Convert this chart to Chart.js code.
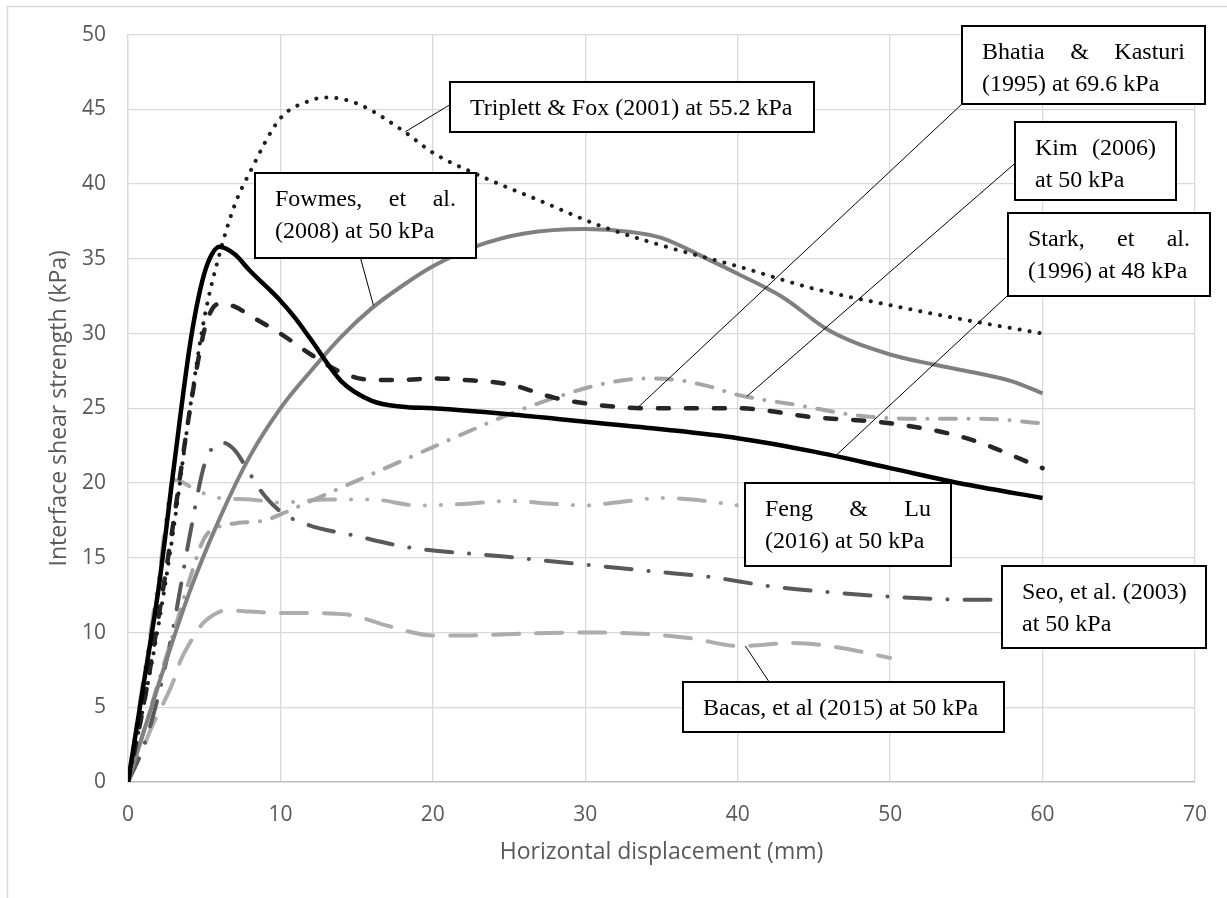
<!DOCTYPE html>
<html><head><meta charset="utf-8">
<script src="https://cdn.jsdelivr.net/npm/chart.js@4.4.1/dist/chart.umd.min.js"></script>
<style>html,body{margin:0;padding:0;background:#fff;}canvas{display:block;}</style>
</head><body>
<canvas id="c" width="1227" height="898"></canvas>
<script>
// ---- data ----
const xTickValues = [0, 10, 20, 30, 40, 50, 60, 70];
const yTickValues = [0, 5, 10, 15, 20, 25, 30, 35, 40, 45, 50];

const starkX = [0,1,2,3,4,4.5,5,5.5,6,7,8,10,11,12,14,16,18,20,25,30,35,40,45,50,55,60];
const starkY = [0,6.4,12.9,21,28.8,31.8,34,35.3,35.8,35.3,34.2,32.2,31,29.6,26.8,25.5,25.1,25,24.6,24.1,23.6,23,22.1,21,19.9,19];

const tripX = [0,1,2,3,4,5,6,7,8,10,12,13,15,18,20,23,27,31,35,40,45,50,55,60];
const tripY = [0,5,10.5,17,24.5,31,35.3,38.6,40.8,44.4,45.6,45.8,45.4,43.6,42.1,40.6,38.9,37.2,35.9,34.5,33,31.9,30.9,30];

const bhatiaX = [0,1,2,3,4,5,5.5,6,7,8,10,12,14,16,18,20,22,25,28,31,34,37,40,45,50,55,60];
const bhatiaY = [0,5,11,17.5,24.5,30.2,31.6,32,31.8,31.2,30,28.6,27.4,26.9,26.9,27,26.9,26.6,25.7,25.2,25,25,25,24.4,24,23,21];

const fowmesX = [0,2,4,6,8,10,12,14,16,18,20,23,26,30,33,35,38,40,43,46,50,53,55,58,60];
const fowmesY = [0,6.5,12.6,17.6,21.8,25,27.5,29.8,31.7,33.2,34.5,35.9,36.7,37,36.8,36.4,35,34,32.4,30.2,28.6,27.9,27.5,26.8,26];

const kimX = [0,1,2,3,4,5,6,7,8,9,10,12,14,16,18,20,22,25,28,31,34,36,38,40,44,48,52,56,60];
const kimY = [0,3.3,6.7,10,13.4,16.3,17.1,17.3,17.4,17.5,17.9,18.8,19.7,20.6,21.5,22.4,23.3,24.6,25.7,26.6,27,26.9,26.5,25.9,25.2,24.5,24.3,24.3,24];

const fengX = [0,1,2,3,3.5,4,5,6,8,10,13,16,19,22,25,28,30,32,35,37,40];
const fengY = [0,6.8,13.5,20.2,20.1,19.8,19.3,19,18.9,18.7,18.9,18.9,18.5,18.6,18.8,18.6,18.5,18.7,19,18.9,18.5];

const seoX = [0,1,2,3,4,5,5.5,6.2,7,7.6,8.7,10,11.8,14.8,18.4,24.5,30.4,34.3,38.3,42.1,46,50,55,60];
const seoY = [0,2.3,5.8,10.5,16.2,21.2,22.3,22.7,22.2,21.3,19.5,18.1,17.2,16.5,15.7,15.1,14.5,14.1,13.7,13.1,12.7,12.4,12.2,12.2];

const bacasX = [0,1,1.65,2,3,3.4,4,4.9,5.5,6.5,8,10,12,14.4,17.2,20,22,25.3,29.7,34.1,37,40.1,43.7,46.6,50];
const bacasY = [0,2.3,3.9,4.6,6.8,8,9.2,10.6,11.1,11.5,11.4,11.3,11.3,11.2,10.4,9.8,9.8,9.9,10,9.9,9.6,9.1,9.3,9.0,8.3];

const xTitle = 'Horizontal displacement (mm)';
const yTitle = 'Interface shear strength (kPa)';

// ---- helpers ----
function pts(xs, ys) { return xs.map((x, i) => ({x: x, y: ys[i]})); }
function ds(label, xs, ys, color, width, dash) {
  return {label, data: pts(xs, ys), borderColor: color, borderWidth: width, borderDash: dash,
    borderCapStyle: dash.length ? 'round' : 'butt', borderJoinStyle: 'round',
    pointRadius: 0, fill: false, cubicInterpolationMode: 'monotone'};
}

// annotation boxes: anchor (top-left) in data units, size in px, leader: [fx, fy, dataX, dataY]
const notes = [
  {lines: ['Triplett & Fox (2001) at 55.2 kPa'], bx: 21.12, by: 46.85, w: 364, h: 50, lead: [0, 0.46, 18.2, 43.5]},
  {lines: ['Fowmes, et al.', '(2008) at 50 kPa'], bx: 8.36, by: 40.76, w: 221, h: 85, lead: [0.475, 1, 16.1, 31.9]},
  {lines: ['Bhatia & Kasturi', '(1995) at 69.6 kPa'], bx: 54.74, by: 50.6, w: 243, h: 78, lead: [0, 1, 33.5, 25.1]},
  {lines: ['Kim (2006)', 'at 50 kPa'], bx: 58.22, by: 44.18, w: 161, h: 78, lead: [0, 0.53, 40.6, 25.8]},
  {lines: ['Stark, et al.', '(1996) at 48 kPa'], bx: 57.70, by: 38.09, w: 202, h: 83, lead: [0, 1, 46.4, 21.8]},
  {lines: ['Feng & Lu', '(2016) at 50 kPa'], bx: 40.46, by: 19.98, w: 206, h: 83, lead: null},
  {lines: ['Seo, et al. (2003)', 'at 50 kPa'], bx: 57.37, by: 14.46, w: 204, h: 82, lead: null},
  {lines: ['Bacas, et al (2015) at 50 kPa'], bx: 36.38, by: 6.69, w: 321, h: 50, lead: [0.27, 0, 40.5, 9.1]}
];

const notePlugin = {
  id: 'notes',
  beforeDraw(chart) {
    const ctx = chart.ctx;
    ctx.save();
    ctx.fillStyle = '#fff';
    ctx.fillRect(0, 0, chart.width, chart.height);
    ctx.strokeStyle = '#D9D9D9';
    ctx.lineWidth = 1.5;
    ctx.beginPath();
    ctx.moveTo(7.5, chart.height); ctx.lineTo(7.5, 6.5); ctx.lineTo(chart.width, 6.5);
    ctx.stroke();
    ctx.restore();
  },
  afterDatasetsDraw(chart) {
    const ctx = chart.ctx, sx = chart.scales.x, sy = chart.scales.y;
    ctx.save();
    const padX = 20;
    ctx.font = '24px "Liberation Serif", "Times New Roman", serif';
    notes.forEach(n => {
      const left = sx.getPixelForValue(n.bx), top = sy.getPixelForValue(n.by);
      if (n.lead) {
        ctx.strokeStyle = '#000'; ctx.lineWidth = 1;
        ctx.beginPath();
        ctx.moveTo(left + n.lead[0] * n.w, top + n.lead[1] * n.h);
        ctx.lineTo(sx.getPixelForValue(n.lead[2]), sy.getPixelForValue(n.lead[3]));
        ctx.stroke();
      }
    });
    notes.forEach(n => {
      const left = Math.round(sx.getPixelForValue(n.bx)), top = Math.round(sy.getPixelForValue(n.by));
      ctx.fillStyle = '#fff';
      ctx.fillRect(left, top, n.w, n.h);
      ctx.strokeStyle = '#000'; ctx.lineWidth = 2;
      ctx.strokeRect(left, top, n.w, n.h);
      ctx.fillStyle = '#000';
      ctx.textBaseline = 'alphabetic';
      ctx.textAlign = 'left';
      const inner = n.w - 2 * padX;
      n.lines.forEach((line, i) => {
        const by = top + 33 + i * 32;
        const words = line.split(' ');
        const justify = n.lines.length > 1 && i < n.lines.length - 1 && words.length > 1;
        if (justify) {
          const ws = words.map(w => ctx.measureText(w).width);
          const tot = ws.reduce((a, b) => a + b, 0);
          let gap = (inner - tot) / (words.length - 1);
          const spaceW = ctx.measureText(' ').width;
          if (gap < spaceW) gap = spaceW;
          let x = left + padX;
          words.forEach((w, k) => { ctx.fillText(w, x, by); x += ws[k] + gap; });
        } else {
          ctx.fillText(line, left + padX, by);
        }
      });
    });
    ctx.restore();
  }
};

const tickFont = {family: '"Open Sans", sans-serif', size: 21};
const titleFont = {family: '"Open Sans", sans-serif', size: 23};

new Chart(document.getElementById('c'), {
  type: 'line',
  data: {
    datasets: [
      ds('Stark, et al. (1996) at 48 kPa', starkX, starkY, '#000000', 4.5, []),
      ds('Triplett & Fox (2001) at 55.2 kPa', tripX, tripY, '#1f1f1f', 4, [0.1, 10]),
      ds('Bhatia & Kasturi (1995) at 69.6 kPa', bhatiaX, bhatiaY, '#262626', 4.5, [11, 17]),
      ds('Fowmes, et al. (2008) at 50 kPa', fowmesX, fowmesY, '#808080', 4, []),
      ds('Kim (2006) at 50 kPa', kimX, kimY, '#A6A6A6', 4, [16, 12.5, 0.1, 12.5]),
      ds('Feng & Lu (2016) at 50 kPa', fengX, fengY, '#ADADAD', 4, [26, 16, 0.1, 16, 0.1, 16]),
      ds('Seo, et al. (2003) at 50 kPa', seoX, seoY, '#595959', 4, [26, 17, 0.1, 17]),
      ds('Bacas, et al (2015) at 50 kPa', bacasX, bacasY, '#ADADAD', 4, [26, 17])
    ]
  },
  options: {
    responsive: false,
    animation: false,
    devicePixelRatio: 1,
    layout: {padding: {left: 8, top: 21, right: 32, bottom: 0}},
    plugins: {legend: {display: false}, tooltip: {enabled: false}},
    scales: {
      x: {
        type: 'linear', min: 0, max: 70,
        afterBuildTicks: s => { s.ticks = xTickValues.map(v => ({value: v})); },
        afterFit: s => { s.height = 116; },
        ticks: {font: tickFont, color: '#595959', padding: 20},
        grid: {color: '#D9D9D9', lineWidth: 1.3, drawTicks: false},
        border: {color: '#BFBFBF', width: 1.5},
        title: {display: true, text: xTitle, font: titleFont, color: '#595959', padding: {top: 0, bottom: 32}}
      },
      y: {
        type: 'linear', min: 0, max: 50,
        afterBuildTicks: s => { s.ticks = yTickValues.map(v => ({value: v})); },
        afterFit: s => { s.width = 120; },
        ticks: {font: tickFont, color: '#595959', padding: 22},
        grid: {color: '#D9D9D9', lineWidth: 1.3, drawTicks: false},
        border: {color: '#D9D9D9', width: 1.3},
        title: {display: true, text: yTitle, font: titleFont, color: '#595959', padding: {top: 38, bottom: 0}}
      }
    }
  },
  plugins: [notePlugin]
});
</script>
</body></html>
